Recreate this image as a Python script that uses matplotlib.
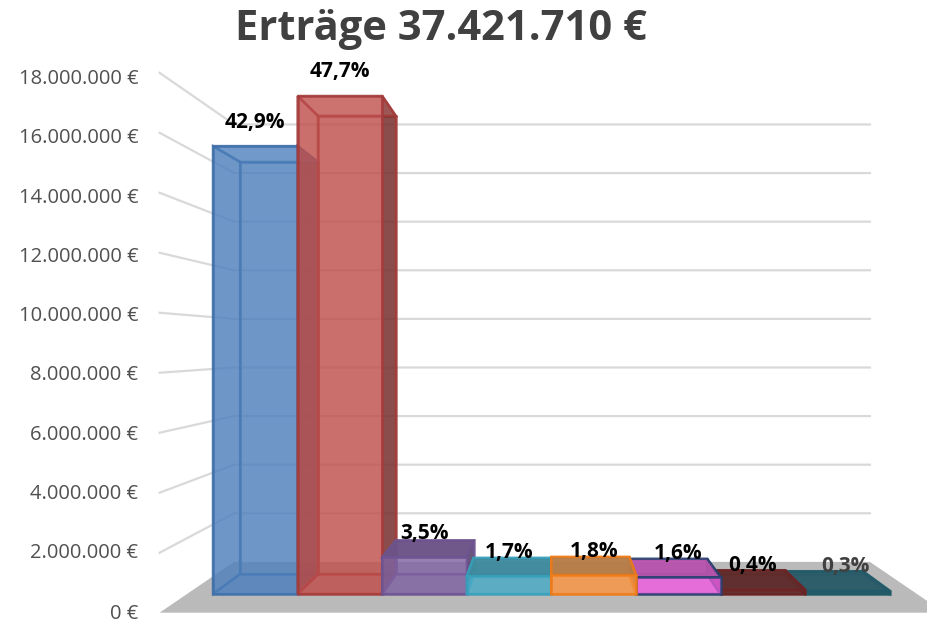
# coding:utf-8
import matplotlib
matplotlib.use('Agg')
import matplotlib.pyplot as plt
from matplotlib.colors import to_rgba, to_rgb
from matplotlib.patches import Polygon

plt.rcParams['font.family'] = ['Open Sans', 'DejaVu Sans']

# daten
title = 'Erträge 37.421.710 €'
values = [16054000, 17850000, 1310000, 636000, 674000, 599000, 150000, 112000]
percent_labels = ['42,9%', '47,7%', '3,5%', '1,7%', '1,8%', '1,6%', '0,4%', '0,3%']
tick_values = [0, 2000000, 4000000, 6000000, 8000000, 10000000, 12000000, 14000000, 16000000, 18000000]
tick_labels = ['0 €', '2.000.000 €', '4.000.000 €', '6.000.000 €', '8.000.000 €',
               '10.000.000 €', '12.000.000 €', '14.000.000 €', '16.000.000 €', '18.000.000 €']

# farben der balken
face_colors = ['#4f81bd', '#c0504d', '#8064a2', '#4bacc6', '#f79646', '#ee60e0', '#5a2222', '#1f5564']
top_colors = ['#4f81bd', '#c0504d', '#6b5287', '#3f8a9e', '#b57c48', '#b654ac', '#5f2c2c', '#2c5c69']
edge_colors = ['#3f6ea8', '#a33b3a', '#6d5390', '#37a0ba', '#ee7a16', '#24406e', '#6e2424', '#1f5a68']
label_colors = ['black'] * 7 + ['#404040']
label_dx = [0, 0, 0, 0, 0, 0, -10, -2]

# pixel pro kategorie / euro auf der vorderen ebene
PX_CAT = 84.6
PX_EUR = 27.9e-6
X0, Y0 = 213, 594
VP_X = (552 - X0) / PX_CAT  # fluchtpunkt
VP_Y = (Y0 - 345) / PX_EUR
S_BAR_BACK = 0.92
S_WALL = 0.871
S_FLOOR_FRONT = 1.075
S_TICK = 1.062
WALL_L = VP_X - 365 / PX_CAT
WALL_R = VP_X + 365 / PX_CAT

fig = plt.figure(figsize=(9.28, 6.24), dpi=100)
ax = fig.add_axes([0, 0, 1, 1])
ax.set_xlim(-X0 / PX_CAT, (928 - X0) / PX_CAT)
ax.set_ylim((Y0 - 624) / PX_EUR, Y0 / PX_EUR)
ax.axis('off')


def proj(x, v, s=1.0):
    # perspektive: zum fluchtpunkt hin skalieren
    return VP_X + (x - VP_X) * s, VP_Y + (v - VP_Y) * s


def shade(color, k):
    r, g, b = to_rgb(color)
    return (r * k, g * k, b * k)


def face(pts, color, edge, alpha, z, lw=1.8):
    ax.add_patch(Polygon(pts, closed=True, facecolor=to_rgba(color, alpha),
                         edgecolor=to_rgba(edge, 0.8), linewidth=lw, zorder=z, joinstyle='miter'))


# boden
ax.add_patch(Polygon([proj(WALL_L, 0, S_FLOOR_FRONT), proj(WALL_R, 0, S_FLOOR_FRONT),
                      proj(WALL_R, 0, S_WALL), proj(WALL_L, 0, S_WALL)],
                     closed=True, facecolor='#bababa', edgecolor='none', zorder=1))

# gitterlinien
for v in tick_values[1:]:
    a = proj(WALL_L, v, S_FLOOR_FRONT)
    b = proj(WALL_L, v, S_WALL)
    c = proj(WALL_R, v, S_WALL)
    ax.plot([a[0], b[0], c[0]], [a[1], b[1], c[1]], color='#d9d9d9', lw=1.6, zorder=2,
            solid_joinstyle='round')


def draw_bar(i, z):
    v = values[i]
    col = face_colors[i]
    e = edge_colors[i]
    fl, fr = i, i + 1
    f_bl, f_br = proj(fl, 0), proj(fr, 0)
    f_tl, f_tr = proj(fl, v), proj(fr, v)
    b_bl, b_br = proj(fl, 0, S_BAR_BACK), proj(fr, 0, S_BAR_BACK)
    b_tl, b_tr = proj(fl, v, S_BAR_BACK), proj(fr, v, S_BAR_BACK)
    # hintere flaechen zuerst
    face([b_bl, b_br, b_tr, b_tl], col, e, 0.35, z)
    face([f_bl, f_br, b_br, b_bl], col, e, 0.45, z)
    face([f_bl, b_bl, b_tl, f_tl], col, e, 0.35, z)
    # seite aussen dunkler
    face([f_br, b_br, b_tr, f_tr], shade(col, 0.6), e, 0.8, z + 0.1)
    # deckel: hohe balken von unten gesehen, niedrige von oben
    if v > VP_Y:
        face([f_tl, f_tr, b_tr, b_tl], top_colors[i], e, 0.3, z + 0.2)
    else:
        face([f_tl, f_tr, b_tr, b_tl], top_colors[i], e, 0.95, z + 0.2)
    face([f_bl, f_br, f_tr, f_tl], col, e, 0.72, z + 0.3)


# aussen nach innen zeichnen, orange zuletzt
order = [0, 1, 2, 3, 7, 6, 5, 4]
for n, i in enumerate(order):
    draw_bar(i, 3 + n)

# prozent beschriftung
for i, (v, txt) in enumerate(zip(values, percent_labels)):
    ax.annotate(txt, proj(i + 0.5, v), xytext=(label_dx[i], 24), textcoords='offset pixels',
                ha='center', va='center', fontsize=15, fontweight='bold', color=label_colors[i], zorder=20)

# achsenbeschriftung
for v, txt in zip(tick_values, tick_labels):
    dy = -5 if v == 0 else -3
    ax.annotate(txt, proj(WALL_L, v, S_TICK), xytext=(-26, dy), textcoords='offset pixels',
                ha='right', va='center', fontsize=14.5, color='#505050', zorder=20)

fig.text(441 / 928, 1 - 30 / 624, title, ha='center', va='center', fontsize=30, fontweight='bold', color='#404040')

fig.savefig('out.png', dpi=100)
